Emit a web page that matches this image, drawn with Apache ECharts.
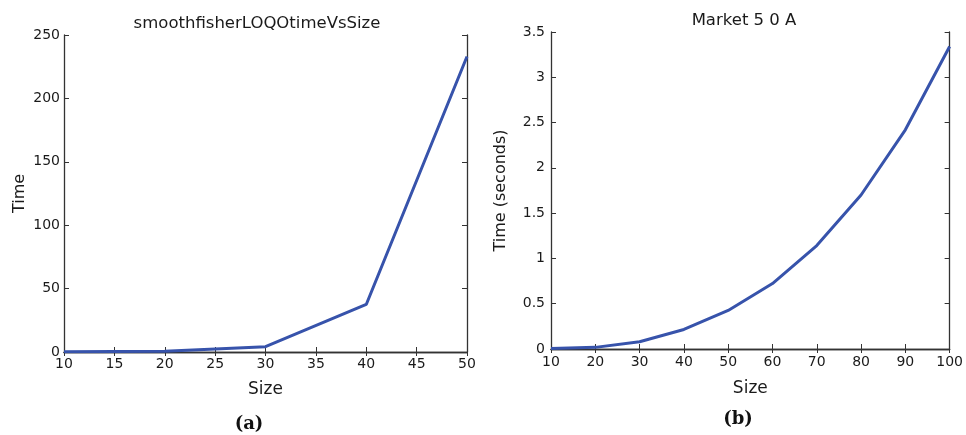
<!DOCTYPE html>
<html>
<head>
<meta charset="utf-8">
<script src="https://cdn.jsdelivr.net/npm/echarts@6/dist/echarts.min.js"></script>
<style>
  html, body { margin: 0; padding: 0; background: #fff; }
  #main { width: 966px; height: 435px; }
</style>
</head>
<body>
<div id="main"></div>
<script>
// data
var sizesA = [10, 20, 30, 40, 50];
var timesA = [0.1, 0.6, 4.2, 37.5, 233];
var sizesB = [10, 20, 30, 40, 50, 60, 70, 80, 90, 100];
var timesB = [0.005, 0.018, 0.08, 0.216, 0.426, 0.723, 1.142, 1.70, 2.42, 3.34];
var titleA = 'smoothfisherLOQOtimeVsSize';
var titleB = 'Market 5 0 A';

var font = '"DejaVu Sans", Verdana, sans-serif';
var lineColor = '#3753ab';
var txt = '#1a1a1a';
var frame = '#333';

function pairs(xs, ys) {
  return xs.map(function (x, i) { return [x, ys[i]]; });
}

function mainX(grid, min, max, step, gap, margin) {
  return {
    type: 'value', gridIndex: grid, min: min, max: max, interval: step,
    name: 'Size', nameLocation: 'middle', nameGap: gap,
    nameTextStyle: { fontFamily: font, fontSize: 17, color: txt },
    axisLine: { lineStyle: { color: frame, width: 1.3 } },
    axisTick: { inside: true, length: 5, lineStyle: { color: frame } },
    axisLabel: { fontFamily: font, fontSize: 14, color: txt, margin: margin },
    splitLine: { show: false }
  };
}
function mirrorX(grid, min, max, step) {
  return {
    type: 'value', gridIndex: grid, position: 'top', min: min, max: max, interval: step,
    axisLine: { lineStyle: { color: frame, width: 1.3 } },
    axisTick: { inside: true, length: 4, lineStyle: { color: frame } },
    axisLabel: { show: false }, splitLine: { show: false }
  };
}
function mainY(grid, max, step, name, gap, margin) {
  return {
    type: 'value', gridIndex: grid, min: 0, max: max, interval: step,
    name: name, nameLocation: 'middle', nameGap: gap,
    nameTextStyle: { fontFamily: font, fontSize: 16, color: txt },
    axisLine: { show: true, lineStyle: { color: frame, width: 1.3 } },
    axisTick: { show: true, inside: true, length: 5, lineStyle: { color: frame } },
    axisLabel: { fontFamily: font, fontSize: 14, color: txt, margin: margin },
    splitLine: { show: false }
  };
}
function mirrorY(grid, max, step) {
  return {
    type: 'value', gridIndex: grid, position: 'right', min: 0, max: max, interval: step,
    axisLine: { show: true, lineStyle: { color: frame, width: 1.3 } },
    axisTick: { show: true, inside: true, length: 5, lineStyle: { color: frame } },
    axisLabel: { show: false }, splitLine: { show: false }
  };
}

var chart = echarts.init(document.getElementById('main'));
chart.setOption({
  animation: false,
  backgroundColor: '#fff',
  title: [
    { text: titleA, left: 252, top: 10, textAlign: 'center',
      textStyle: { fontFamily: font, fontSize: 16.5, fontWeight: 'normal', color: txt } },
    { text: titleB, left: 739, top: 7, textAlign: 'center',
      textStyle: { fontFamily: font, fontSize: 16.5, fontWeight: 'normal', color: txt } }
  ],
  grid: [
    { left: 64, top: 35, width: 403, height: 317 },
    { left: 551, top: 32, width: 402, height: 317 }
  ],
  xAxis: [
    mainX(0, 10, 50, 5, 29, 5), mirrorX(0, 10, 50, 5),
    mainX(1, 10, 100, 10, 31, 6), mirrorX(1, 10, 100, 10)
  ],
  yAxis: [
    mainY(0, 250, 50, 'Time', 36, 4), mirrorY(0, 250, 50),
    mainY(1, 3.5, 0.5, 'Time (seconds)', 42, 6), mirrorY(1, 3.5, 0.5)
  ],
  series: [
    { type: 'line', xAxisIndex: 0, yAxisIndex: 0, data: pairs(sizesA, timesA),
      showSymbol: false, lineStyle: { color: lineColor, width: 3 } },
    { type: 'line', xAxisIndex: 2, yAxisIndex: 2, data: pairs(sizesB, timesB),
      showSymbol: false, lineStyle: { color: lineColor, width: 3 } }
  ],
  graphic: [
    { type: 'text', x: 249, y: 424,
      style: { text: '(a)', font: 'bold 18px "DejaVu Serif", serif', fill: '#111',
               textAlign: 'center', textVerticalAlign: 'middle' } },
    { type: 'text', x: 738, y: 419,
      style: { text: '(b)', font: 'bold 18px "DejaVu Serif", serif', fill: '#111',
               textAlign: 'center', textVerticalAlign: 'middle' } }
  ]
});
</script>
</body>
</html>
